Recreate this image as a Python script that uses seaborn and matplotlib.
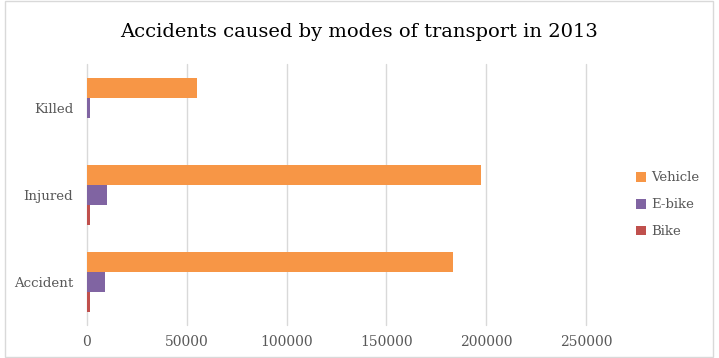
import matplotlib
matplotlib.use("Agg")
import matplotlib.pyplot as plt
import seaborn as sns
import pandas as pd
from matplotlib.patches import Rectangle

categories = ["Killed", "Injured", "Accident"]
series = ["Vehicle", "E-bike", "Bike"]
vehicle = [55000, 197500, 183300]
ebike = [1300, 10100, 9200]
bike = [100, 1300, 1300]
colors = ["#F79646", "#8064A2", "#C0504D"]

df = pd.DataFrame({
    "Category": categories * 3,
    "Mode": [s for s in series for _ in categories],
    "Count": vehicle + ebike + bike,
})

sns.set_style("white")
plt.rcParams["font.family"] = ["DejaVu Serif"]

fig = plt.figure(figsize=(7.19, 3.58), dpi=100)
ax = fig.add_axes([0.121, 0.091, 0.694, 0.729])

sns.barplot(
    data=df, y="Category", x="Count", hue="Mode",
    order=categories, hue_order=series, palette=colors,
    orient="h", width=0.69, ax=ax, saturation=1, errorbar=None,
    linewidth=0,
)

ax.set_xlim(0, 250000)
ax.set_xticks(range(0, 250001, 50000))
ax.xaxis.grid(True, color="#D9D9D9", linewidth=1, clip_on=False)
ax.set_axisbelow(True)
for s in ax.spines.values():
    s.set_visible(False)
ax.tick_params(axis="both", length=0, colors="#595959", labelsize=10)
ax.tick_params(axis="y", pad=10, labelsize=9.6)
ax.tick_params(axis="x", pad=7)
ax.set_xlabel("")
ax.set_ylabel("")

fig.text(0.5, 0.91, "Accidents caused by modes of transport in 2013",
         fontsize=14, color="#000000", ha="center", va="center")

leg = ax.legend(loc="center left", bbox_to_anchor=(1.077, 0.462), frameon=False,
                fontsize=9.5, handlelength=0.75, handleheight=0.75,
                labelspacing=1.05, handletextpad=0.4)
for t in leg.get_texts():
    t.set_color("#595959")

fig.patches.append(Rectangle((0.007, 0.003), 0.985, 0.994, transform=fig.transFigure,
                             fill=False, edgecolor="#D9D9D9", linewidth=1))

fig.savefig("out.png", dpi=100)
